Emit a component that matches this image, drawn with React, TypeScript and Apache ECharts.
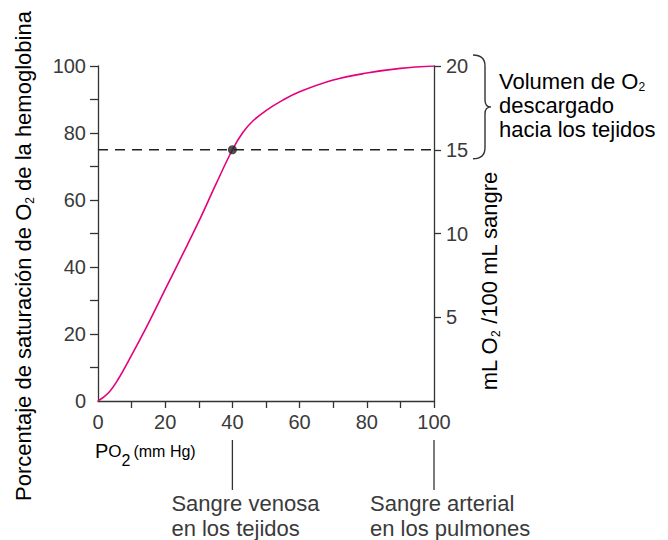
import React, { useEffect, useRef } from "react";
import * as echarts from "echarts";

// ---- data ----
const po2 = [0, 3, 6, 10, 15, 20, 25, 30, 35, 40, 43, 46, 50, 55, 60, 70, 80, 90, 100];
const saturation = [0, 2.3, 6.5, 13.7, 23.2, 33.3, 43.4, 53.6, 64.5, 75, 80, 83.5, 86.7, 89.8, 92.3, 95.8, 97.9, 99.3, 100];
const dashX = [0, 100];
const dashY = 75;
const venousPoint = [40, 75];
const xTickValues = [10, 20, 30, 40, 50, 60, 70, 80, 90, 100];
const xLabelValues = [0, 20, 40, 60, 80, 100];
const yTickValues = [10, 20, 30, 40, 50, 60, 70, 80, 90, 100];
const yLabelValues = [0, 20, 40, 60, 80, 100];
const rTickValues = [5, 10, 15, 20];
const venousLabel = ["Sangre venosa", "en los tejidos"];
const arterialLabel = ["Sangre arterial", "en los pulmones"];
const arterialX = 100;
const venousX = 40;
const braceTop = 20;
const braceBottom = 15;

const FONT = "'Liberation Sans', Arial, Helvetica, sans-serif";
const TXT = "#3a3a3a";
const AXIS = "#333333";
const CURVE = "#e5007d";

export default function App() {
  const ref = useRef<HTMLDivElement>(null);
  useEffect(() => {
    const chart = echarts.init(ref.current!, null, { renderer: "svg" });
    const axisLabelBase = { fontSize: 20, color: TXT, fontFamily: FONT };
    chart.setOption({
      animation: false,
      grid: { left: 98, right: 234, top: 66, bottom: 139 },
      xAxis: {
        type: "value",
        min: 0,
        max: 100,
        interval: 10,
        axisLine: { show: true, onZero: false, lineStyle: { color: AXIS, width: 1.3 } },
        axisTick: { show: true, length: 7, customValues: xTickValues, lineStyle: { color: AXIS, width: 1.3 } },
        axisLabel: { ...axisLabelBase, margin: 11, customValues: xLabelValues },
        splitLine: { show: false },
      },
      yAxis: [
        {
          type: "value",
          position: "left",
          min: 0,
          max: 100,
          interval: 10,
          axisLine: { show: true, lineStyle: { color: AXIS, width: 1.3 } },
          axisTick: { show: true, length: 8, customValues: yTickValues, lineStyle: { color: AXIS, width: 1.3 } },
          axisLabel: { ...axisLabelBase, margin: 12, customValues: yLabelValues },
          splitLine: { show: false },
        },
        {
          type: "value",
          position: "right",
          min: 0,
          max: 20,
          interval: 5,
          axisLine: { show: true, lineStyle: { color: AXIS, width: 1.3 } },
          axisTick: { show: true, length: 7, customValues: rTickValues, lineStyle: { color: AXIS, width: 1.3 } },
          axisLabel: { ...axisLabelBase, margin: 12, customValues: rTickValues },
          splitLine: { show: false },
        },
      ],
      series: [
        {
          type: "line",
          data: dashX.map((x) => [x, dashY]),
          symbol: "none",
          lineStyle: { color: "#222", width: 1.3, type: [10, 7] },
          z: 1,
        },
        {
          type: "line",
          data: po2.map((x, i) => [x, saturation[i]]),
          symbol: "none",
          smooth: 0.4,
          lineStyle: { color: CURVE, width: 1.6 },
          z: 2,
        },
        {
          type: "scatter",
          data: [venousPoint],
          symbolSize: 9,
          itemStyle: { color: "#222" },
          z: 3,
        },
      ],
    });

    const px = (v: number) => chart.convertToPixel({ xAxisIndex: 0 }, v) as number;
    const pyR = (v: number) => chart.convertToPixel({ yAxisIndex: 1 }, v) as number;
    const py0 = chart.convertToPixel({ yAxisIndex: 0 }, 0) as number;
    const xV = px(venousX);
    const xA = px(arterialX);
    const xL = px(0);

    const bTop = pyR(braceTop) - 11;
    const bBot = pyR(braceBottom) + 9;
    const h = bBot - bTop;
    const mid = h / 2;
    const d = `M0,0 Q12,0 12,11 L12,${mid - 7} Q12,${mid} 18,${mid} Q12,${mid} 12,${mid + 7} L12,${h - 11} Q12,${h} 0,${h}`;
    echarts.graphic.registerShape("brace", echarts.graphic.extendPath(d, {}));

    const subRich = (size: number) => ({
      main: { fontSize: size, fontFamily: FONT, color: TXT, lineHeight: 26 },
      sub: { fontSize: 12, fontFamily: FONT, color: TXT, verticalAlign: "bottom", lineHeight: 12 },
    });

    const labelLines = (lines: string[], x: number, y0: number) =>
      lines.map((t, i) => ({
        type: "text",
        x,
        y: y0 + i * 25,
        style: { text: t, fontSize: 22, fontFamily: FONT, fill: TXT, align: "left", verticalAlign: "middle" },
      }));

    chart.setOption({
      graphic: [
        {
          type: "text",
          x: 23,
          y: 256,
          rotation: Math.PI / 2,
          style: {
            text: "{main|Porcentaje de saturación de O}{sub|2}{main| de la hemoglobina}",
            rich: subRich(22),
            align: "center",
            verticalAlign: "middle",
          },
        },
        {
          type: "text",
          x: 489,
          y: 281,
          rotation: Math.PI / 2,
          style: {
            text: "{main|mL O}{sub|2}{main| /100 mL sangre}",
            rich: subRich(22),
            align: "center",
            verticalAlign: "middle",
          },
        },
        {
          type: "text",
          x: xL - 3,
          y: py0 + 50,
          style: {
            text: "{P|P}{O|O}{s|2}{u|(mm Hg)}",
            rich: {
              P: { fontSize: 20, fontFamily: FONT, color: TXT, lineHeight: 34 },
              O: { fontSize: 17, fontFamily: FONT, color: TXT, lineHeight: 34 },
              s: { fontSize: 16, fontFamily: FONT, color: TXT, lineHeight: 8, verticalAlign: "bottom" },
              u: { fontSize: 16, fontFamily: FONT, color: TXT, lineHeight: 34, padding: [0, 0, 0, 3] },
            },
            align: "left",
            verticalAlign: "middle",
          },
        },
        {
          type: "brace",
          x: xA + 39,
          y: bTop,
          style: { fill: "none", stroke: AXIS, lineWidth: 1.4 },
        },
        {
          type: "text",
          x: xA + 65,
          y: pyR(braceTop) + 3,
          style: {
            text: "{main|Volumen de O}{sub|2}\n{main|descargado}\n{main|hacia los tejidos}",
            rich: {
              main: { fontSize: 22, fontFamily: FONT, color: TXT, lineHeight: 24 },
              sub: { fontSize: 12, fontFamily: FONT, color: TXT, verticalAlign: "bottom", lineHeight: 10 },
            },
            align: "left",
            verticalAlign: "top",
          },
        },
        { type: "line", shape: { x1: xV, y1: py0 + 39, x2: xV, y2: py0 + 89 }, style: { stroke: AXIS, lineWidth: 1.3 } },
        { type: "line", shape: { x1: xA, y1: py0 + 39, x2: xA, y2: py0 + 89 }, style: { stroke: AXIS, lineWidth: 1.3 } },
        ...labelLines(venousLabel, xV - 61, py0 + 102),
        ...labelLines(arterialLabel, xA - 64, py0 + 102),
      ],
    });
    return () => chart.dispose();
  }, []);
  return <div ref={ref} style={{ position: "fixed", left: 0, top: 0, width: 668, height: 540, background: "#fff" }} />;
}
